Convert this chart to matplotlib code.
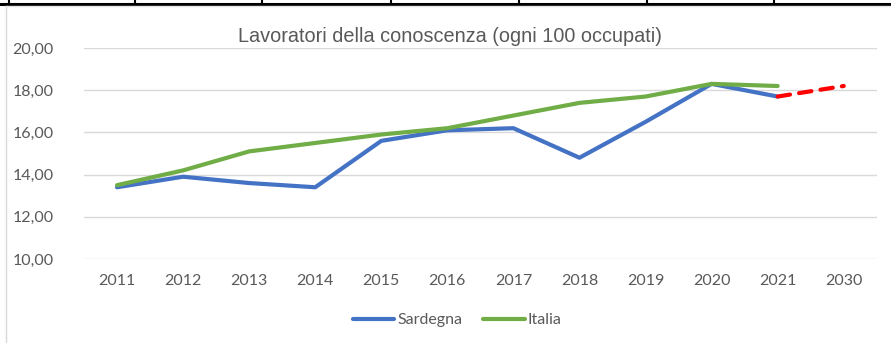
import numpy as np
import matplotlib
matplotlib.use("Agg")
import matplotlib.pyplot as plt
from matplotlib.lines import Line2D

# Knowledge workers per 100 employed
years = ["2011", "2012", "2013", "2014", "2015", "2016",
         "2017", "2018", "2019", "2020", "2021", "2030"]
sardegna = [13.4, 13.9, 13.6, 13.4, 15.6, 16.1, 16.2, 14.8, 16.5, 18.3, 17.7]
italia = [13.5, 14.2, 15.1, 15.5, 15.9, 16.2, 16.8, 17.4, 17.7, 18.3, 18.2]
target = [17.7, 18.2]          # 2021 -> 2030 projection
yticks = [10, 12, 14, 16, 18, 20]

BLUE = "#4472C4"
GREEN = "#70AD47"
RED = "#FF0000"
GREY_TXT = "#595959"

plt.rcParams["font.family"] = ["Lato", "DejaVu Sans"]

fig = plt.figure(figsize=(8.91, 3.43), dpi=100)
ax = fig.add_axes([0.0943, 0.2449, 0.8897, 0.6151])

x = np.arange(len(years))
ax.plot(x[:len(sardegna)], sardegna, color=BLUE, lw=3, solid_capstyle="round",
        label="Sardegna", zorder=3)
ax.plot(x[:len(italia)], italia, color=GREEN, lw=3, solid_capstyle="round",
        label="Italia", zorder=3)
ax.plot([x[10], x[11]], target, color=RED, lw=3, ls=(0, (3, 2.2)),
        dash_capstyle="round", zorder=3)

ax.set_xlim(-0.5, len(years) - 0.5)
ax.set_ylim(10, 20)
ax.set_xticks(x)
ax.set_xticklabels(years)
ax.set_yticks(yticks)
ax.set_yticklabels([f"{v:.2f}".replace(".", ",") for v in yticks])
ax.grid(axis="y", color="#D9D9D9", lw=1)
ax.set_axisbelow(True)
for s in ax.spines.values():
    s.set_visible(False)
ax.tick_params(length=0, labelsize=11.5, labelcolor=GREY_TXT)
ax.tick_params(axis="y", pad=22)
ax.tick_params(axis="x", pad=11)

fig.text(0.505, 0.893, "Lavoratori della conoscenza (ogni 100 occupati)",
         ha="center", va="center", fontsize=14.3, color=GREY_TXT,
         family=["Liberation Sans", "DejaVu Sans"])

fig.legend(loc="center", bbox_to_anchor=(0.513, 0.067), ncol=2, frameon=False,
           fontsize=11.5, labelcolor=GREY_TXT, handlelength=2.6,
           handletextpad=0.2, columnspacing=1.3)

# table border above the chart and light chart frame on the left
fig.add_artist(Line2D([0, 1], [1 - 3.5 / 343] * 2, color="black", lw=2.2,
                      transform=fig.transFigure))
for px in [8.5, 135, 262, 391, 519, 647, 774]:
    fig.add_artist(Line2D([px / 891] * 2, [1, 1 - 3.5 / 343], color="black",
                          lw=1.5, transform=fig.transFigure))
fig.add_artist(Line2D([6 / 891] * 2, [0, 1 - 6 / 343], color="#D9D9D9",
                      lw=1, transform=fig.transFigure))
fig.add_artist(Line2D([6 / 891, 1], [1 - 6 / 343] * 2, color="#E6E6E6",
                      lw=1, transform=fig.transFigure))

fig.savefig("out.png", dpi=100)
